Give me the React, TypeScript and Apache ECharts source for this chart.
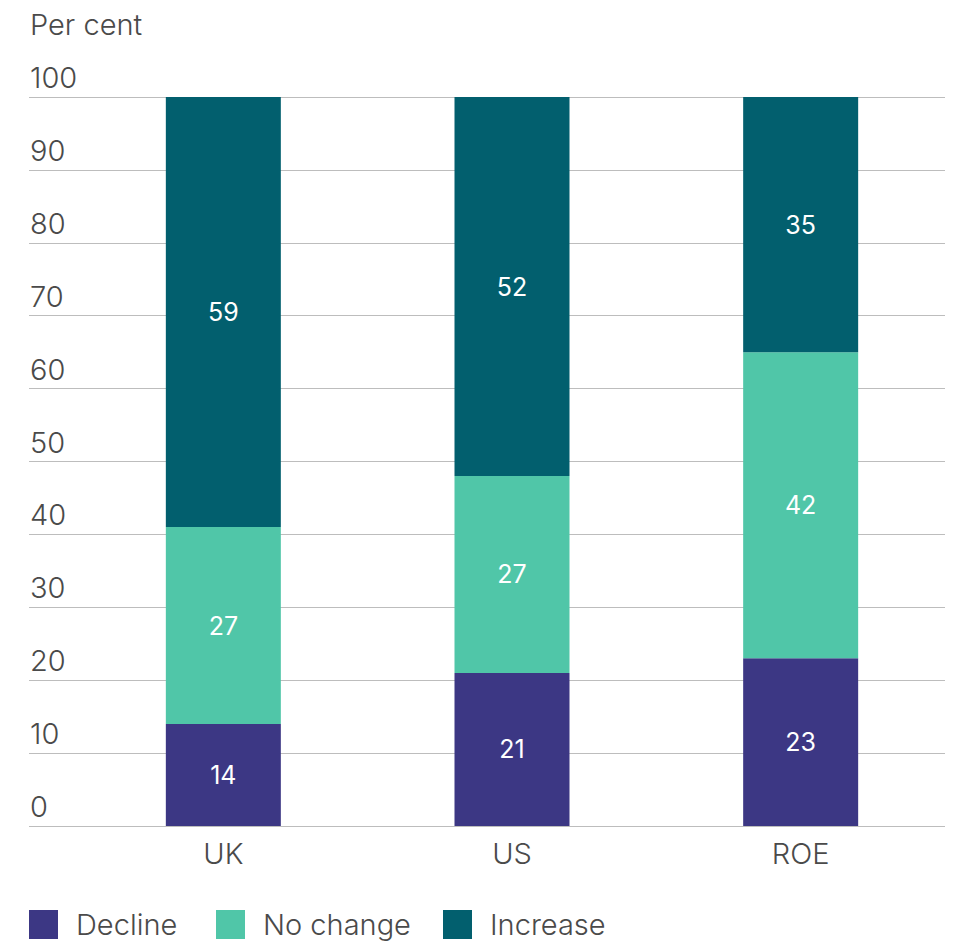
import React, { useEffect, useRef } from "react";
import * as echarts from "echarts";

const categories = ["UK", "US", "ROE"];
const seriesNames = ["Decline", "No change", "Increase"];
const declineValues = [14, 21, 23];
const noChangeValues = [27, 27, 42];
const increaseValues = [59, 52, 35];
const colors = ["#3c3784", "#50c6a8", "#025f6e"];
const yAxisTitle = "Per cent";

const FONT = "Inter, 'Noto Sans', sans-serif";
const TEXT = "#4a4a4a";

export default function App() {
  const ref = useRef<HTMLDivElement>(null);
  useEffect(() => {
    if (!ref.current) return;
    const chart = echarts.init(ref.current, undefined, { renderer: "svg" });
    const values = [declineValues, noChangeValues, increaseValues];
    const legendLefts = [29, 216, 443];
    chart.setOption({
      animation: false,
      textStyle: { fontFamily: FONT },
      title: {
        text: yAxisTitle,
        left: 25,
        top: 5,
        textStyle: { fontFamily: FONT, fontSize: 29, fontWeight: 300, color: TEXT },
      },
      legend: seriesNames.map((name, i) => ({
        data: [name],
        left: legendLefts[i],
        top: 910,
        itemWidth: 29,
        itemHeight: 29,
        padding: 0,
        icon: "rect",
        selectedMode: false,
        textStyle: {
          fontFamily: FONT,
          fontSize: 29,
          fontWeight: 300,
          color: TEXT,
          padding: [0, 0, 0, 13],
        },
      })),
      grid: [
        { left: 29, right: 15, top: 97, bottom: 117 },
        { left: 79, right: 15, top: 97, bottom: 117 },
      ],
      xAxis: [
        { type: "value", gridIndex: 0, show: false },
        {
          type: "category",
          gridIndex: 1,
          data: categories,
          axisLine: { show: false },
          axisTick: { show: false },
          axisLabel: {
            fontFamily: FONT,
            fontSize: 29,
            fontWeight: 300,
            color: TEXT,
            margin: 13,
          },
        },
      ],
      yAxis: [
        {
          type: "value",
          gridIndex: 0,
          min: 0,
          max: 100,
          interval: 10,
          axisLine: { show: false },
          axisTick: { show: false },
          splitLine: { lineStyle: { color: "#bdbdbd", width: 1 } },
          axisLabel: {
            inside: true,
            margin: 1,
            verticalAlign: "bottom",
            fontFamily: FONT,
            fontSize: 29,
            fontWeight: 300,
            color: TEXT,
            padding: [0, 0, 5, 0],
          },
        },
        {
          type: "value",
          gridIndex: 1,
          min: 0,
          max: 100,
          interval: 10,
          show: false,
          splitLine: { show: false },
        },
      ],
      series: seriesNames.map((name, i) => ({
        name,
        type: "bar",
        xAxisIndex: 1,
        yAxisIndex: 1,
        stack: "total",
        barWidth: 115,
        data: values[i],
        itemStyle: { color: colors[i] },
        label: {
          show: true,
          position: "inside",
          color: "#ffffff",
          fontFamily: FONT,
          fontSize: 25,
          fontWeight: 400,
        },
      })),
    });
    return () => chart.dispose();
  }, []);
  return (
    <div
      ref={ref}
      style={{ position: "fixed", left: 0, top: 0, width: 960, height: 943, background: "#fff" }}
    />
  );
}
